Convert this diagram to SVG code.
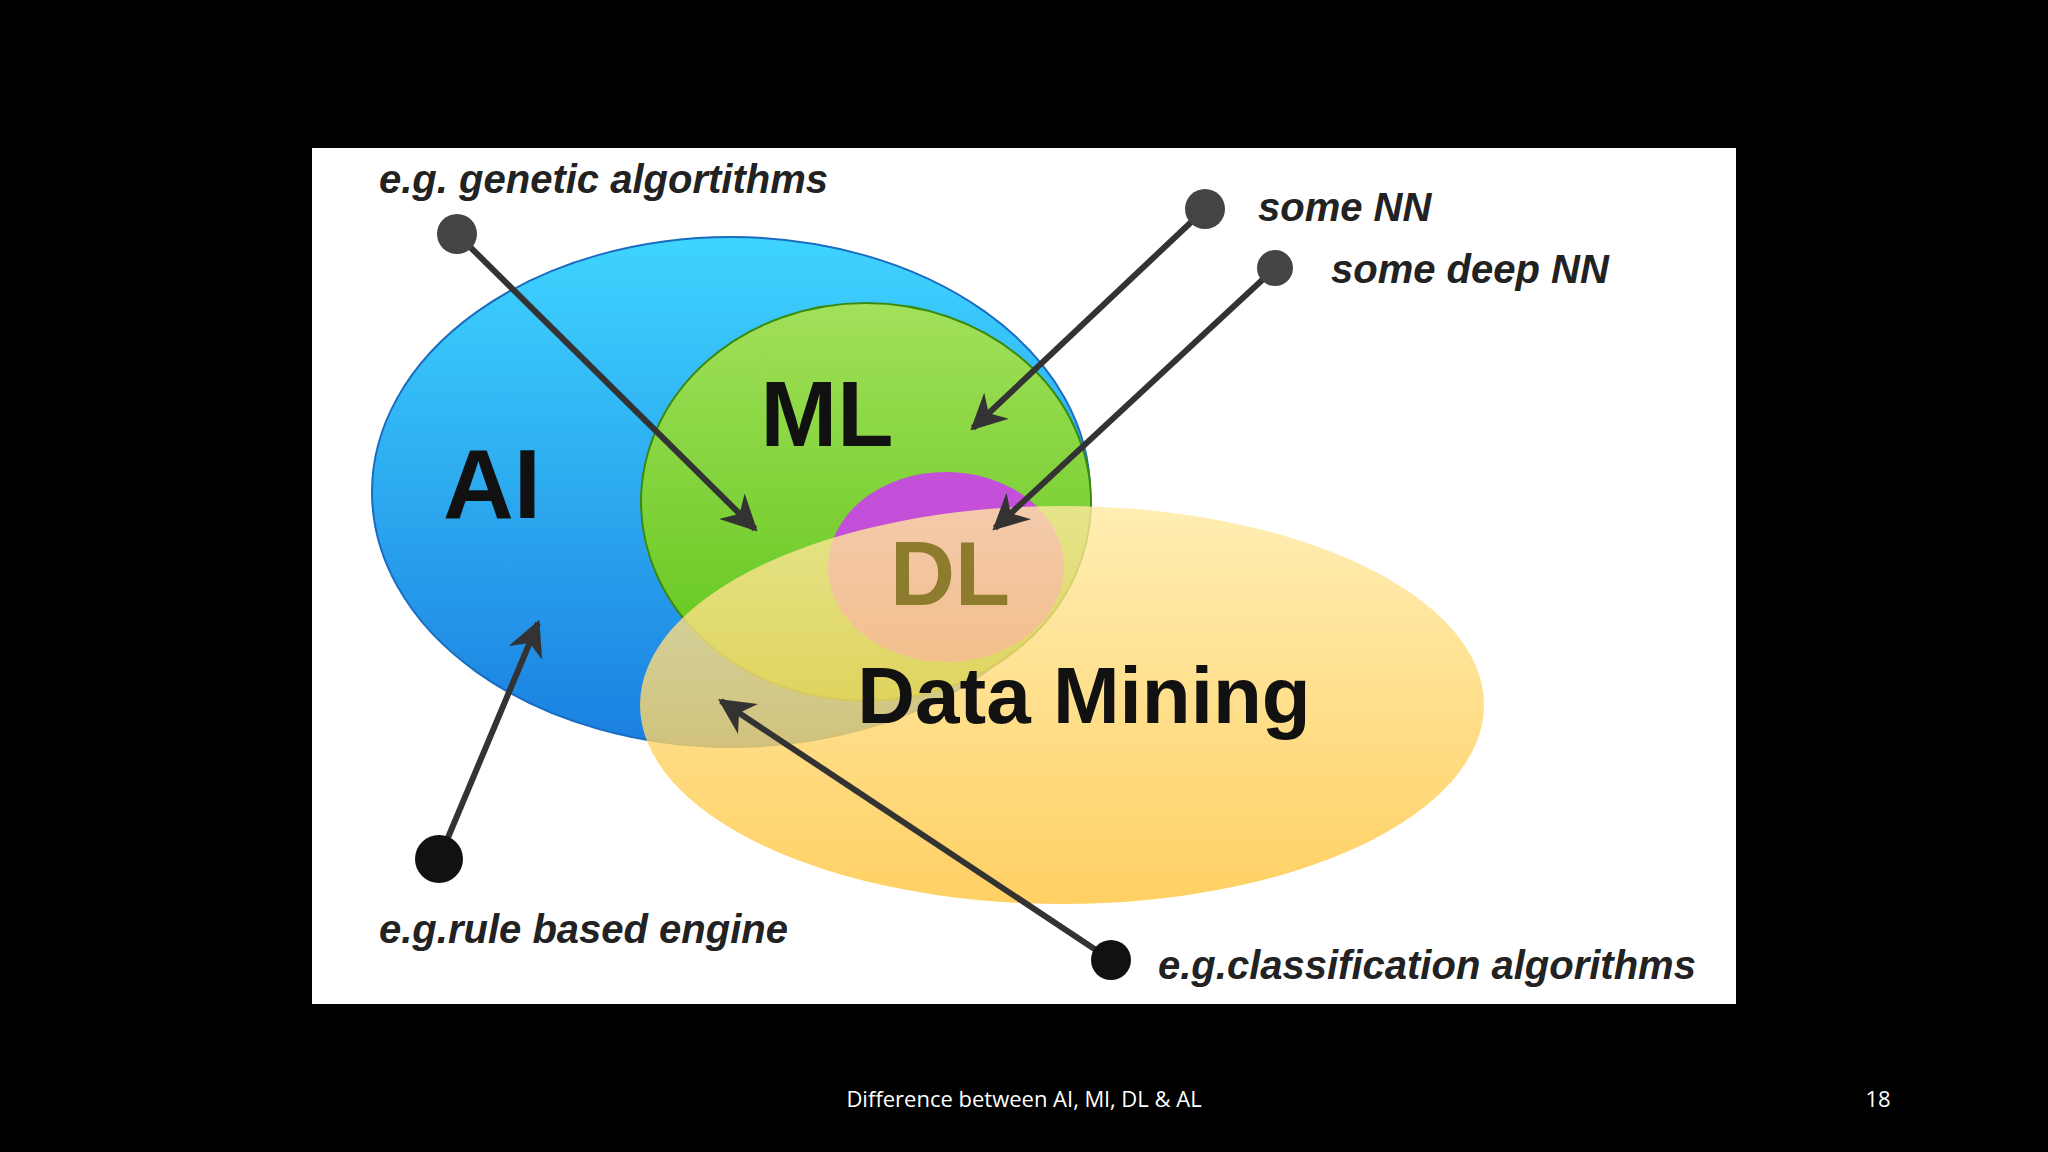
<svg xmlns="http://www.w3.org/2000/svg" width="2048" height="1152" viewBox="0 0 2048 1152">
<defs>
<style>
.lbl{font-family:"Liberation Sans",Arial,sans-serif;font-style:italic;font-weight:bold;font-size:40px;fill:#222}
.big{font-family:"Liberation Sans",Arial,sans-serif;font-weight:bold;fill:#111}
.ln{stroke:#333;stroke-width:6;fill:none;marker-end:url(#ah)}
</style>
<marker id="ah" viewBox="0 0 10 10" refX="9" refY="5" markerWidth="6" markerHeight="6" orient="auto" markerUnits="strokeWidth"><path d="M0,0 L10,5 L0,10 L3,5 z" fill="#333"/></marker>
<linearGradient id="ai" x1="0" y1="0" x2="0" y2="1"><stop offset="0" stop-color="#3fd4ff"/><stop offset="1" stop-color="#1a7fe0"/></linearGradient>
<linearGradient id="ml" x1="0" y1="0" x2="0" y2="1"><stop offset="0" stop-color="#a2e05a"/><stop offset="1" stop-color="#5cc418"/></linearGradient>
<linearGradient id="dm" x1="0" y1="0" x2="0" y2="1"><stop offset="0" stop-color="#ffe9a0"/><stop offset="1" stop-color="#ffc53d"/></linearGradient>
</defs>
<rect width="2048" height="1152" fill="#000"/>
<rect x="312" y="148" width="1424" height="856" fill="#fff"/>
<g id="ai-node"><ellipse cx="731" cy="492" rx="359" ry="255" fill="url(#ai)" stroke="#1a6cc0" stroke-width="2"/><text class="big" x="492" y="518" font-size="98" text-anchor="middle">AI</text></g>
<g id="ml-node"><ellipse cx="866" cy="502" rx="225" ry="199" fill="url(#ml)" stroke="#3a8a10" stroke-width="2"/><text class="big" x="827" y="446" font-size="92" text-anchor="middle">ML</text></g>
<g id="dl-node"><ellipse cx="946" cy="567" rx="118" ry="95" fill="#c44fd8"/></g>
<g id="dm-node"><ellipse cx="1062" cy="705" rx="422" ry="199" fill="url(#dm)" fill-opacity="0.8"/><text class="big" x="1084" y="723" font-size="80" text-anchor="middle">Data Mining</text></g>
<text class="big" x="950" y="605" font-size="90" text-anchor="middle" fill="#8a7a2a" style="fill:#8d7b2e">DL</text>
<g id="connectors">
<line class="ln" x1="457" y1="234" x2="755" y2="529"/>
<line class="ln" x1="1205" y1="209" x2="973" y2="428"/>
<line class="ln" x1="1275" y1="268" x2="995" y2="528"/>
<line class="ln" x1="439" y1="859" x2="538" y2="623"/>
<line class="ln" x1="1111" y1="960" x2="721" y2="701"/>
<circle cx="457" cy="234" r="20" fill="#444"/>
<circle cx="1205" cy="209" r="20" fill="#444"/>
<circle cx="1275" cy="268" r="18" fill="#444"/>
<circle cx="439" cy="859" r="24" fill="#111"/>
<circle cx="1111" cy="960" r="20" fill="#111"/>
</g>
<g id="labels">
<text class="lbl" x="379" y="193">e.g. genetic algortithms</text>
<text class="lbl" x="1258" y="221">some NN</text>
<text class="lbl" x="1331" y="283">some deep NN</text>
<text class="lbl" x="379" y="943">e.g.rule based engine</text>
<text class="lbl" x="1158" y="979">e.g.classification algorithms</text>
</g>
<text x="1024" y="1107" font-family="Open Sans,sans-serif" font-size="22" fill="#fff" text-anchor="middle">Difference between AI, Ml, DL &amp; AL</text>
<text x="1878" y="1107" font-family="Open Sans,sans-serif" font-size="22" fill="#fff" text-anchor="middle">18</text>
</svg>
